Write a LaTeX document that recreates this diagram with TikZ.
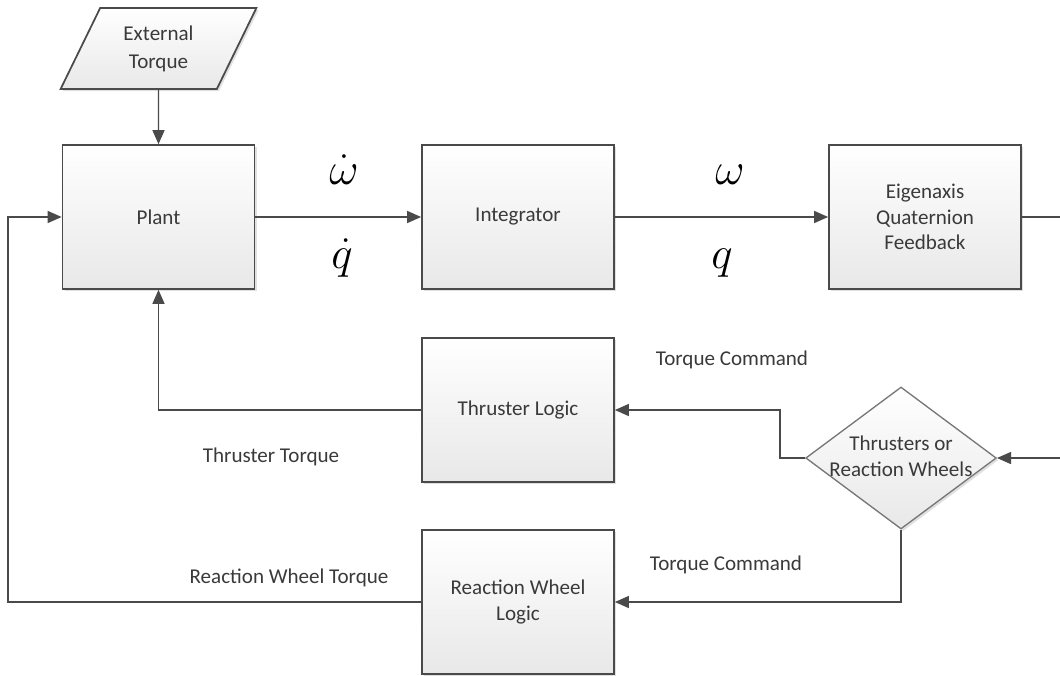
\RequirePackage{fix-cm}
\documentclass[tikz,border=0pt]{standalone}
\usepackage{fontspec}
\setmainfont{Carlito}
\usetikzlibrary{shapes.geometric,arrows.meta,shadows}
\definecolor{line0}{HTML}{4A4A4A}
\definecolor{text0}{HTML}{3A3A3A}
\definecolor{fill0}{HTML}{E8E8E8}
\colorlet{edge0}{line0!75}

\tikzset{
  boxshade/.style={shading=axis, top color=white, bottom color=fill0,
    drop shadow={shadow xshift=1.6pt, shadow yshift=-1.6pt, fill=black, opacity=0.12}},
  block/.style={boxshade, draw=line0, line width=1.3pt, minimum width=144pt,
    minimum height=108pt, align=center, text=text0,
    font=\fontsize{15.8}{19}\selectfont},
  torque/.style={boxshade, draw=line0, line width=1.3pt, trapezium,
    trapezium left angle=64, trapezium right angle=116, trapezium stretches=true,
    minimum width=147.75pt, minimum height=60.75pt, align=center, text=text0,
    font=\fontsize{15.8}{21}\selectfont},
  choice/.style={boxshade, draw=edge0, line width=1pt, diamond,
    minimum width=143pt, minimum height=106.5pt, inner sep=0pt, text=text0,
    font=\fontsize{15.8}{20}\selectfont},
  flow/.style={draw=line0, line width=1.1pt, -{Triangle[length=10.5pt,width=9pt]}},
  lbl/.style={text=text0, font=\fontsize{15.8}{19}\selectfont},
  sig/.style={anchor=base, font=\fontsize{34}{40}\selectfont}
}

\begin{document}
\begin{tikzpicture}[x=0.75pt, y=-0.75pt]
  \useasboundingbox (0,0) rectangle (1060,675);

  % blocks
  \node[torque] (ext) at (158.5,48.5) {External\\Torque};
  \node[block] (plant) at (158.5,217) {Plant};
  \node[block] (integ) at (518,217) {Integrator};
  \node[block] (eigen) at (925,217) {Eigenaxis\\Quaternion\\Feedback};
  \node[block] (thrlogic) at (518,410) {Thruster Logic};
  \node[block] (rwlogic) at (518,602) {Reaction Wheel\\Logic};
  \node[choice] (select) at (901,458)
    {\makebox[0pt]{\begin{tabular}{@{}c@{}}Thrusters or\\Reaction Wheels\end{tabular}}};

  % turning points of the feedback paths
  \coordinate (rwbus) at (8,602);
  \coordinate (cmdbus) at (1075,217);

  % signals
  \draw[flow] (ext) -- (plant);
  \draw[flow] (plant) -- (integ);
  \draw[flow] (integ) -- (eigen);
  \draw[flow] (eigen.east) -- (cmdbus) |- (select.east);
  \draw[flow] (select.west) -- ++(-25,0) |- (thrlogic.east);
  \draw[flow] (select.south) |- (rwlogic.east);
  \draw[flow] (thrlogic.west) -| (plant.south);
  \draw[flow] (rwlogic.west) -- (rwbus) |- (plant.west);

  % states on the forward path
  \node[sig] (wdot) at (344,184) {$\dot{\omega}$};
  \node[sig] (qdot) at (342,268) {$\dot{q}$};
  \node[sig] (w) at (730,184) {$\omega$};
  \node[sig] (q) at (722,268) {$q$};

  % torque labels
  \node[lbl] (thrcmd) at (732,360) {Torque Command};
  \node[lbl] (rwcmd) at (726,565) {Torque Command};
  \node[lbl] (thrtq) at (271,457) {Thruster Torque};
  \node[lbl] (rwtq) at (289,578) {Reaction Wheel Torque};
\end{tikzpicture}
\end{document}
